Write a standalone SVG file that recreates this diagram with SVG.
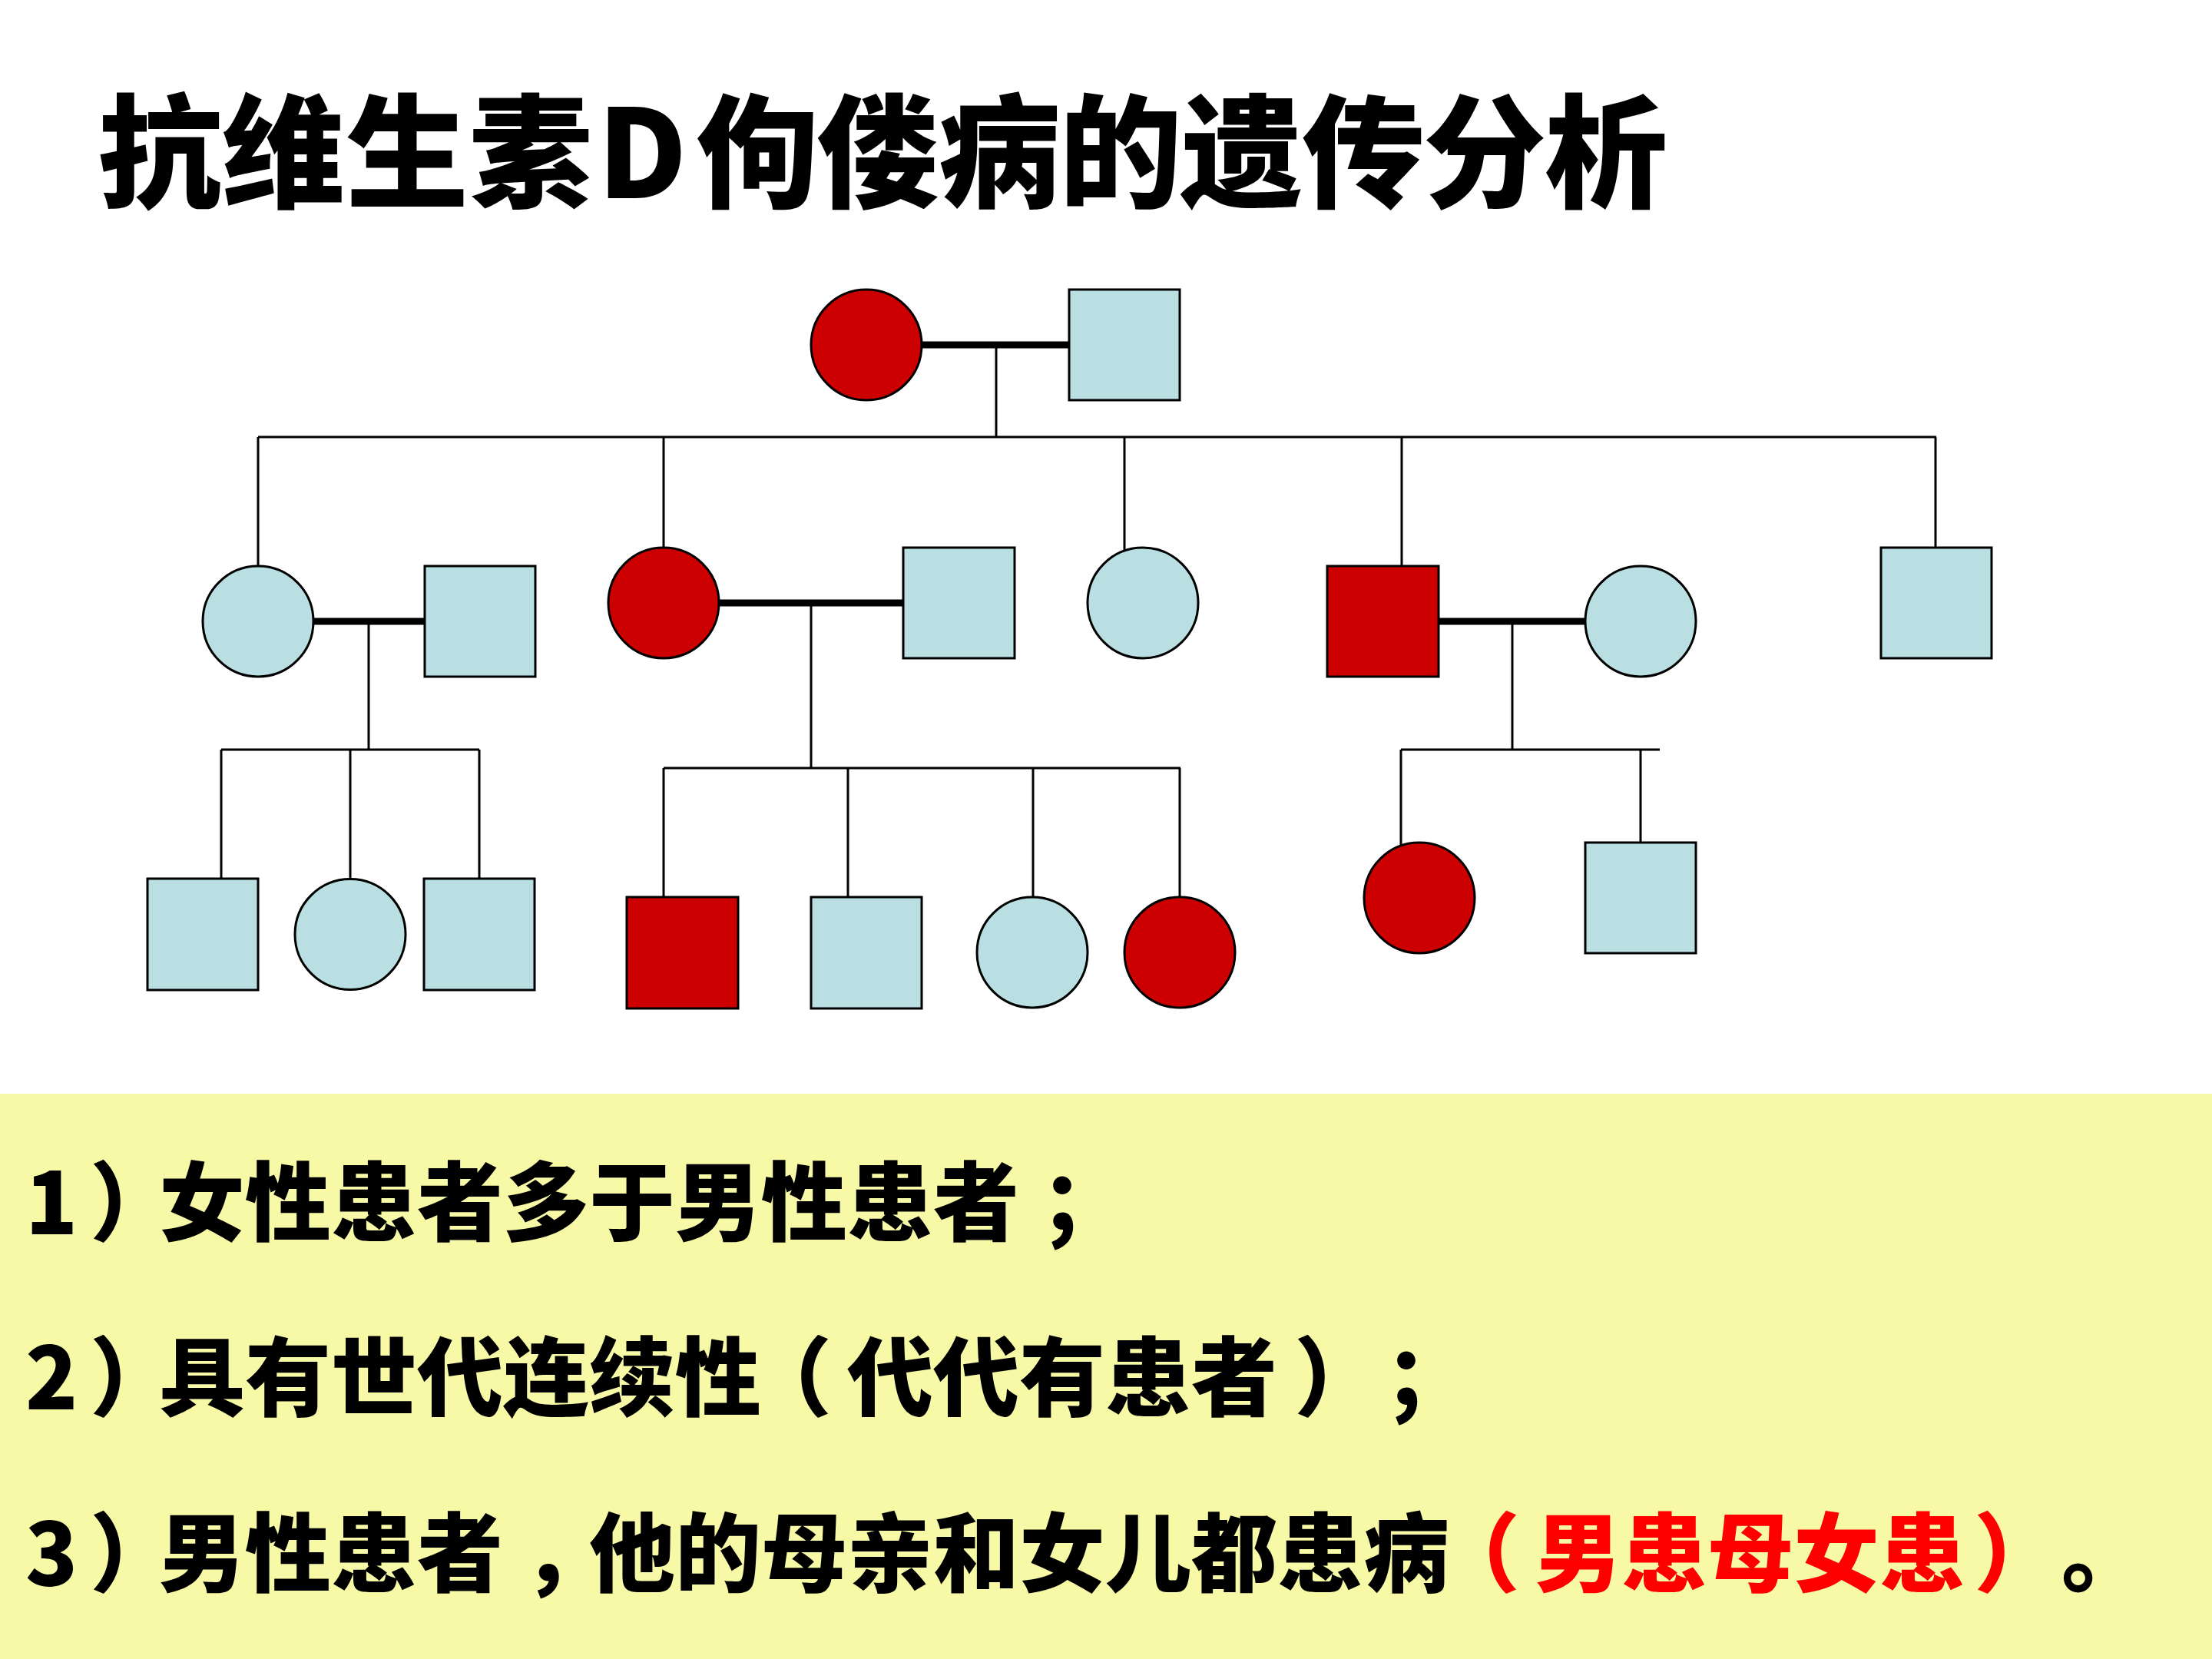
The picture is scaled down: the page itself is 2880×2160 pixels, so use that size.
<svg xmlns="http://www.w3.org/2000/svg" width="2880" height="2160" viewBox="0 0 2880 2160">
<style>
.aff{fill:#CC0000;stroke:#000;stroke-width:3}
.nor{fill:#B9DFE3;stroke:#000;stroke-width:3}
.ln{stroke:#000;stroke-width:3;fill:none}
.mar{stroke:#000;stroke-width:9;fill:none}
.title{font-family:"Noto Sans CJK SC","Noto Sans",sans-serif;font-weight:900;font-size:160px;fill:#000}
.body{font-family:"Noto Sans CJK SC","Noto Sans",sans-serif;font-weight:900;font-size:112px;fill:#000;text-spacing-trim:space-all}
.red{fill:#FF0000}
</style>
<rect x="0" y="0" width="2880" height="2160" fill="#FFFFFF"/>
<rect x="0" y="1424" width="2880" height="736" fill="#F8F9A6"/>
<text id="title" class="title" x="128 289 450 611 778 905 1063 1221 1379 1537 1695 1853 2011" y="258">抗维生素D佝偻病的遗传分析</text>
<g id="connectors">
<line class="mar" x1="1198" y1="449" x2="1392" y2="449"/>
<line class="ln" x1="1297" y1="449" x2="1297" y2="569"/>
<line class="ln" x1="336" y1="569" x2="2521" y2="569"/>
<line class="ln" x1="336" y1="569" x2="336" y2="737"/>
<line class="ln" x1="864" y1="569" x2="864" y2="713"/>
<line class="ln" x1="1464" y1="569" x2="1464" y2="717"/>
<line class="ln" x1="1825" y1="569" x2="1825" y2="737"/>
<line class="ln" x1="2520" y1="569" x2="2520" y2="713"/>
<line class="mar" x1="406" y1="809" x2="553" y2="809"/>
<line class="ln" x1="480" y1="809" x2="480" y2="976"/>
<line class="ln" x1="288" y1="976" x2="624" y2="976"/>
<line class="ln" x1="288" y1="976" x2="288" y2="1144"/>
<line class="ln" x1="456" y1="976" x2="456" y2="1144"/>
<line class="ln" x1="624" y1="976" x2="624" y2="1144"/>
<line class="mar" x1="934" y1="785" x2="1176" y2="785"/>
<line class="ln" x1="1056" y1="785" x2="1056" y2="1000"/>
<line class="ln" x1="864" y1="1000" x2="1537" y2="1000"/>
<line class="ln" x1="864" y1="1000" x2="864" y2="1168"/>
<line class="ln" x1="1104" y1="1000" x2="1104" y2="1168"/>
<line class="ln" x1="1345" y1="1000" x2="1345" y2="1168"/>
<line class="ln" x1="1536" y1="1000" x2="1536" y2="1168"/>
<line class="mar" x1="1873" y1="809" x2="2066" y2="809"/>
<line class="ln" x1="1969" y1="809" x2="1969" y2="976"/>
<line class="ln" x1="1824" y1="976" x2="2161" y2="976"/>
<line class="ln" x1="1824" y1="976" x2="1824" y2="1101"/>
<line class="ln" x1="2136" y1="976" x2="2136" y2="1097"/>
</g>
<g id="I-1"><circle class="aff" cx="1128" cy="449" r="72"/></g>
<g id="I-2"><rect class="nor" x="1392" y="377" width="144" height="144"/></g>
<g id="II-1"><circle class="nor" cx="336" cy="809" r="72"/></g>
<g id="II-2"><rect class="nor" x="553" y="737" width="144" height="144"/></g>
<g id="II-3"><circle class="aff" cx="864" cy="785" r="72"/></g>
<g id="II-4"><rect class="nor" x="1176" y="713" width="145" height="144"/></g>
<g id="II-5"><circle class="nor" cx="1488" cy="785" r="72"/></g>
<g id="II-6"><rect class="aff" x="1728" y="737" width="145" height="144"/></g>
<g id="II-7"><circle class="nor" cx="2136" cy="809" r="72"/></g>
<g id="II-8"><rect class="nor" x="2449" y="713" width="144" height="144"/></g>
<g id="III-1"><rect class="nor" x="192" y="1144" width="144" height="145"/></g>
<g id="III-2"><circle class="nor" cx="456" cy="1216.5" r="72"/></g>
<g id="III-3"><rect class="nor" x="552" y="1144" width="144" height="145"/></g>
<g id="III-4"><rect class="aff" x="816" y="1168" width="145" height="145"/></g>
<g id="III-5"><rect class="nor" x="1056" y="1168" width="144" height="145"/></g>
<g id="III-6"><circle class="nor" cx="1344" cy="1240" r="72"/></g>
<g id="III-7"><circle class="aff" cx="1536" cy="1240" r="72"/></g>
<g id="III-8"><circle class="aff" cx="1848" cy="1169" r="72"/></g>
<g id="III-9"><rect class="nor" x="2064" y="1097" width="144" height="144"/></g>
<g id="notes">
<text class="body" y="1607" x="33 117 207 319 431 543 655 767 879 991 1103 1215 1355">1）女性患者多于男性患者；</text>
<text class="body" y="1835" x="33 117 207 319 431 543 655 767 879 971 1103 1215 1327 1439 1551 1685 1803">2）具有世代连续性（代代有患者）；</text>
<text class="body" y="2064" x="33 117 207 319 431 543 680 767 879 991 1103 1215 1327 1439 1551 1663 1775">3）男性患者，他的母亲和女儿都患病<tspan class="red" x="1867 1999 2111 2223 2335 2447 2570">（男患母女患）</tspan><tspan x="2684">。</tspan></text>
</g>
</svg>
